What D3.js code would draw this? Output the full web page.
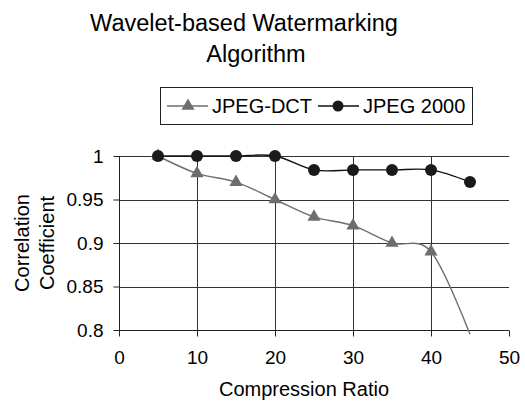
<!DOCTYPE html>
<html>
<head>
<meta charset="utf-8">
<script src="https://cdn.jsdelivr.net/npm/d3@7/dist/d3.min.js"></script>
<style>
  html, body { margin: 0; padding: 0; background: #fff; }
  svg { display: block; font-family: "Liberation Sans", Arial, sans-serif; }
</style>
</head>
<body>
<svg id="chart" width="525" height="408"></svg>
<script>
const titleLines = ["Wavelet-based Watermarking", "Algorithm"];
const xLabel = "Compression Ratio";
const yLabelLines = ["Correlation", "Coefficient"];
const compressionRatios = [5, 10, 15, 20, 25, 30, 35, 40, 45];
const seriesNames = ["JPEG-DCT", "JPEG 2000"];
const jpegDct = [1.0, 0.98, 0.97, 0.95, 0.93, 0.92, 0.90, 0.89, 0.795];
const jpeg2000 = [1.0, 1.0, 1.0, 1.0, 0.984, 0.984, 0.984, 0.984, 0.97];
const xTicks = [0, 10, 20, 30, 40, 50];
const yTicks = [0.8, 0.85, 0.9, 0.95, 1];

(function () {
const svg = d3.select("#chart");
const pLeft = 119, pRight = 509, pTop = 156, pBottom = 330;
const x = d3.scaleLinear().domain([0, 50]).range([pLeft, pRight]);
const y = d3.scaleLinear().domain([0.8, 1]).range([pBottom, pTop]);

// Title
const titleX = [244, 256];
svg.append("g").selectAll("text").data(titleLines).join("text")
  .attr("x", (d, i) => titleX[i]).attr("y", (d, i) => 31 + i * 31)
  .attr("text-anchor", "middle").attr("font-size", 23.5).attr("fill", "#000")
  .text(d => d);

// Horizontal gridlines
svg.append("g").selectAll("line").data(yTicks.filter(v => v > 0.8)).join("line")
  .attr("x1", pLeft).attr("x2", pRight)
  .attr("y1", d => Math.round(y(d)) + 0.5).attr("y2", d => Math.round(y(d)) + 0.5)
  .attr("stroke", "#333").attr("stroke-width", 1);

// Vertical gridlines
svg.append("g").selectAll("line").data(xTicks.filter(v => v > 0 && v < 50)).join("line")
  .attr("x1", d => Math.round(x(d)) + 0.5).attr("x2", d => Math.round(x(d)) + 0.5)
  .attr("y1", pTop).attr("y2", pBottom)
  .attr("stroke", "#333").attr("stroke-width", 1);

// Axes
const xAxis = d3.axisBottom(x).tickValues(xTicks).tickSize(6).tickPadding(9).tickFormat(d3.format("d"));
const gx = svg.append("g").attr("transform", `translate(0,${pBottom + 0.5})`).call(xAxis);
gx.select(".domain").attr("stroke", "#222").attr("d", `M${pLeft},0H${pRight}`);
gx.selectAll(".tick line").attr("stroke", "#222");
gx.selectAll(".tick text").attr("font-size", 19).attr("font-family", "Liberation Sans, Arial, sans-serif").attr("fill", "#000").attr("dy", "0.95em");

const yAxis = d3.axisLeft(y).tickValues(yTicks).tickSize(6).tickPadding(10).tickFormat(d => String(+d.toFixed(2)));
const gy = svg.append("g").attr("transform", `translate(${pLeft + 0.5},0)`).call(yAxis);
gy.select(".domain").attr("stroke", "#222").attr("d", `M0,${pTop}V${pBottom}`);
gy.selectAll(".tick line").attr("stroke", "#222");
gy.selectAll(".tick text").attr("font-size", 19).attr("font-family", "Liberation Sans, Arial, sans-serif").attr("fill", "#000");

// Axis titles
svg.append("text").attr("x", (pLeft + pRight) / 2 - 10).attr("y", 396)
  .attr("text-anchor", "middle").attr("font-size", 20).attr("fill", "#000").text(xLabel);
svg.append("g").selectAll("text").data(yLabelLines).join("text")
  .attr("transform", (d, i) => `translate(${29 + i * 25},${(pTop + pBottom) / 2}) rotate(-90)`)
  .attr("text-anchor", "middle").attr("font-size", 20).attr("fill", "#000").text(d => d);

// Lines
const dctColor = "#6e6e6e", j2kColor = "#111";
const lineGen = d3.line().x(d => x(d[0])).y(d => y(d[1])).curve(d3.curveCatmullRom.alpha(0));
const dctData = compressionRatios.map((c, i) => [c, jpegDct[i]]);
const j2kData = compressionRatios.map((c, i) => [c, jpeg2000[i]]);

svg.append("path").attr("d", lineGen(dctData)).attr("fill", "none").attr("stroke", dctColor).attr("stroke-width", 1.4);
svg.append("path").attr("d", lineGen(j2kData)).attr("fill", "none").attr("stroke", j2kColor).attr("stroke-width", 1.4);

const tri = d3.symbol().type(d3.symbolTriangle).size(75);
svg.append("g").selectAll("path").data(dctData.filter(d => d[1] >= 0.8)).join("path")
  .attr("transform", d => `translate(${x(d[0])},${y(d[1])})`)
  .attr("d", tri).attr("fill", dctColor);
svg.append("g").selectAll("circle").data(j2kData.filter(d => d[1] >= 0.8)).join("circle")
  .attr("cx", d => x(d[0])).attr("cy", d => y(d[1])).attr("r", 6).attr("fill", "#1a1a1a");

// Legend
const lg = svg.append("g");
lg.append("rect").attr("x", 160.5).attr("y", 87.5).attr("width", 312).attr("height", 37)
  .attr("fill", "#fff").attr("stroke", "#222").attr("stroke-width", 1);
const ly = 106;
lg.append("line").attr("x1", 167).attr("x2", 208).attr("y1", ly).attr("y2", ly).attr("stroke", dctColor).attr("stroke-width", 1.4);
lg.append("path").attr("transform", `translate(188,${ly})`).attr("d", tri).attr("fill", dctColor);
lg.append("text").attr("x", 212).attr("y", ly + 7).attr("font-size", 20).attr("fill", "#000").text(seriesNames[0]);
lg.append("line").attr("x1", 318).attr("x2", 359).attr("y1", ly).attr("y2", ly).attr("stroke", j2kColor).attr("stroke-width", 1.4);
lg.append("circle").attr("cx", 338).attr("cy", ly).attr("r", 5.5).attr("fill", "#1a1a1a");
lg.append("text").attr("x", 363).attr("y", ly + 7).attr("font-size", 20).attr("fill", "#000").text(seriesNames[1]);
})();
</script>
</body>
</html>
